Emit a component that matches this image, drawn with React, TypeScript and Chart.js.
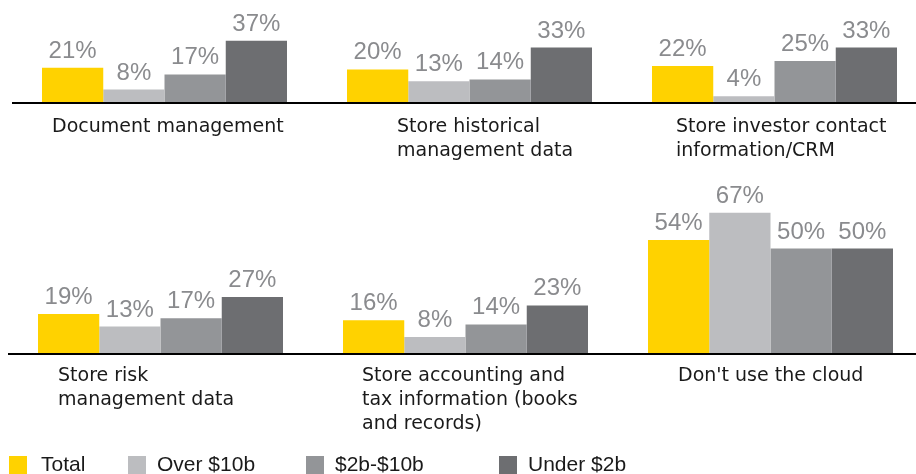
import { useEffect, useRef } from "react";
import { Chart, registerables } from "chart.js";

Chart.register(...registerables);

// Survey: how firms use the cloud, by firm size
const SERIES = ["Total", "Over $10b", "$2b-$10b", "Under $2b"];

const TOP_CATEGORIES = [
  ["Document management"],
  ["Store historical", "management data"],
  ["Store investor contact", "information/CRM"],
];
const BOTTOM_CATEGORIES = [
  ["Store risk", "management data"],
  ["Store accounting and", "tax information (books", "and records)"],
  ["Don't use the cloud"],
];

// Percent values, one entry per category (top row first, then bottom row)
const TOTAL = [21, 20, 22, 19, 16, 54];
const OVER_10B = [8, 13, 4, 13, 8, 67];
const FROM_2B_TO_10B = [17, 14, 25, 17, 14, 50];
const UNDER_2B = [37, 33, 33, 27, 23, 50];

const SERIES_VALUES = [TOTAL, OVER_10B, FROM_2B_TO_10B, UNDER_2B];
const COLORS = ["#FFD200", "#BCBDC0", "#939598", "#6D6E71"];
const VALUE_COLOR = "#8A8B8E";
const TEXT_COLOR = "#1A1A1A";

type RowLayout = {
  categories: string[][];
  from: number;
  left: number;
  top: number;
  width: number;
  height: number;
  axisHeight: number;
  padTop: number;
  yMax: number;
  labelShift: number[];
  firstBaseline: number;
};

const ROWS: RowLayout[] = [
  {
    categories: TOP_CATEGORIES,
    from: 0,
    left: 12,
    top: 0,
    width: 915,
    height: 175,
    axisHeight: 72,
    padTop: 0,
    yMax: 61.3,
    labelShift: [-112.5, -72.5, -98.5],
    firstBaseline: 29,
  },
  {
    categories: BOTTOM_CATEGORIES,
    from: 3,
    left: 8,
    top: 180,
    width: 915,
    height: 294,
    axisHeight: 120,
    padTop: 20,
    yMax: 73,
    labelShift: [-102.5, -103.5, -92.5],
    firstBaseline: 27,
  },
];

const LEGEND_BOX_X = [9, 128, 306, 499];
const LEGEND_TEXT_X = [41, 157, 335, 528];

const valueLabels = {
  id: "valueLabels",
  afterDatasetsDraw(chart: any) {
    const { ctx } = chart;
    ctx.save();
    ctx.font = '24px "Liberation Sans", Arial, sans-serif';
    ctx.fillStyle = VALUE_COLOR;
    ctx.textAlign = "center";
    ctx.textBaseline = "alphabetic";
    chart.data.datasets.forEach((ds: any, k: number) => {
      chart.getDatasetMeta(k).data.forEach((bar: any, i: number) => {
        ctx.fillText(`${ds.data[i]}%`, bar.x, bar.y - 10);
      });
    });
    ctx.restore();
  },
};

function makeCategoryLabels(row: RowLayout) {
  return {
    id: "categoryLabels",
    afterDraw(chart: any) {
      const { ctx } = chart;
      const xs = chart.scales.x;
      ctx.save();
      ctx.font = '19px "DejaVu Sans", sans-serif';
      ctx.fillStyle = TEXT_COLOR;
      ctx.textAlign = "left";
      ctx.textBaseline = "alphabetic";
      row.categories.forEach((lines, i) => {
        const x = xs.getPixelForTick(i) + row.labelShift[i];
        lines.forEach((line, j) => {
          ctx.fillText(line, x, xs.top + row.firstBaseline + j * 24);
        });
      });
      ctx.restore();
    },
  };
}

function BarRow({ row }: { row: RowLayout }) {
  const ref = useRef<HTMLCanvasElement | null>(null);

  useEffect(() => {
    if (!ref.current) return;
    const n = row.categories.length;
    const chart = new Chart(ref.current, {
      type: "bar",
      data: {
        labels: row.categories.map((c) => c.join(" ")),
        datasets: SERIES.map((name, k) => ({
          label: name,
          data: SERIES_VALUES[k].slice(row.from, row.from + n),
          backgroundColor: COLORS[k],
          borderWidth: 0,
          categoryPercentage: 245 / 305,
          barPercentage: 1,
        })),
      },
      options: {
        responsive: false,
        animation: false,
        devicePixelRatio: 1,
        layout: { padding: { top: row.padTop, left: 0, right: 0, bottom: 0 } },
        plugins: {
          legend: { display: false },
          tooltip: { enabled: false },
        },
        scales: {
          x: {
            grid: { display: false },
            border: { display: true, color: "#000000", width: 2, z: 1 },
            ticks: { display: false },
            afterFit: (s: any) => {
              s.height = row.axisHeight;
            },
          },
          y: { display: false, min: 0, max: row.yMax },
        },
      },
      plugins: [valueLabels, makeCategoryLabels(row)],
    } as any);
    return () => chart.destroy();
  }, [row]);

  return (
    <canvas
      ref={ref}
      width={row.width}
      height={row.height}
      style={{
        position: "absolute",
        left: row.left,
        top: row.top,
        width: row.width,
        height: row.height,
        display: "block",
      }}
    />
  );
}

export default function App() {
  useEffect(() => {
    document.body.style.margin = "0";
    document.body.style.overflow = "hidden";
  }, []);

  return (
    <div
      style={{
        position: "relative",
        width: 916,
        height: 474,
        overflow: "hidden",
        background: "#ffffff",
      }}
    >
      {ROWS.map((row, i) => (
        <BarRow key={i} row={row} />
      ))}
      {SERIES.map((name, k) => (
        <div key={name}>
          <div
            style={{
              position: "absolute",
              left: LEGEND_BOX_X[k],
              top: 456,
              width: 18,
              height: 18,
              background: COLORS[k],
            }}
          />
          <div
            style={{
              position: "absolute",
              left: LEGEND_TEXT_X[k],
              top: 452,
              font: '21px "Liberation Sans", Arial, sans-serif',
              lineHeight: "24px",
              color: TEXT_COLOR,
              whiteSpace: "nowrap",
            }}
          >
            {name}
          </div>
        </div>
      ))}
    </div>
  );
}
